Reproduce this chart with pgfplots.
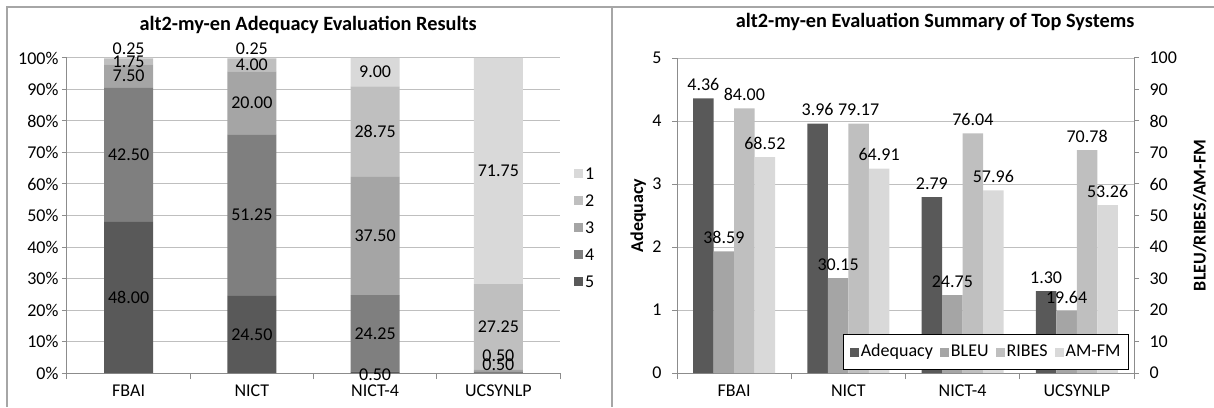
\documentclass[border=0pt]{standalone}
\usepackage{fontspec}
\setmainfont{Carlito}
\usepackage{pgfplots}
\usepackage{pgfplotstable}
\pgfplotsset{compat=1.18}
\definecolor{c5}{HTML}{595959}
\definecolor{c4}{HTML}{7F7F7F}
\definecolor{c3}{HTML}{A5A5A5}
\definecolor{c2}{HTML}{BFBFBF}
\definecolor{c1}{HTML}{D9D9D9}
\definecolor{gridc}{HTML}{BFBFBF}
\definecolor{axisc}{HTML}{8C8C8C}
\definecolor{framec}{HTML}{A6A6A6}
\newcommand{\lbl}{\fontsize{18}{21}\selectfont}
\newcommand{\ttl}{\bfseries\fontsize{20.3}{24}\selectfont}

% stacked adequacy shares (percent), one column per level; d* = extra label offsets (pt)
\pgfplotstableread{
x s5 s4 s3 s2 s1 d5 d4 d3 d2 d1
0 48.00 42.50 7.50 1.75 0.25 0 0 0 0 10
1 24.50 51.25 20.00 4.00 0.25 0 0 0 0 10
2 0.50 24.25 37.50 28.75 9.00 -3 0 0 0 0
3 0.00 0.50 0.50 27.25 71.75 -3 7 15 0 0
}\shares

\pgfplotstableread{
x adequacy bleu ribes amfm
0 4.36 38.59 84.00 68.52
1 3.96 30.15 79.17 64.91
2 2.79 24.75 76.04 57.96
3 1.30 19.64 70.78 53.26
}\summary

\pgfplotsset{
  common/.style={
    scale only axis, height=315pt,
    xmin=-0.5, xmax=3.5,
    /pgf/number format/assume math mode=true,
    tick label style={font=\lbl, text=black},
    xticklabel style={yshift=-3pt},
    label style={font=\lbl\bfseries, text=black},
    axis line style={axisc, line width=1pt},
    tick style={axisc, line width=1pt},
    tick align=outside, major tick length=5pt, minor tick length=6pt,
    grid style={gridc, line width=1pt},
  },
  seglabel/.style 2 args={
    visualization depends on={\thisrow{#1} \as \segval},
    visualization depends on={\thisrow{#2} \as \segdy},
    nodes near coords={\pgfmathprintnumber[fixed,fixed zerofill,precision=2]{\segval}},
    every node near coord/.append style={anchor=center, font=\lbl, text=black,
      yshift={\segdy}},
  },
  sq legend/.style={legend image code/.code={\fill[##1,draw=none] (0pt,-4.5pt) rectangle (9pt,4.5pt);}},
}

\begin{document}
\begin{tikzpicture}
\useasboundingbox (0,0) rectangle (1214pt,407pt);
\draw[framec, line width=1.2pt] (7pt,0pt) -- (7pt,400pt) -- (1214pt,400pt);
\draw[framec, line width=1.2pt] (612pt,0pt) -- (612pt,400pt);

% ---------------- left: stacked 100% bars ----------------
\begin{axis}[common,
  at={(67pt,34pt)}, anchor=south west, width=493pt,
  ybar stacked, bar width=49pt,
  ymin=0, ymax=100,
  xtick={0,1,2,3}, xticklabels={FBAI,NICT,NICT-4,UCSYNLP},
  major x tick style={draw=none},
  minor xtick={-0.5,0.5,1.5,2.5,3.5},
  ytick={0,10,...,100},
  yticklabel={\pgfmathprintnumber{\tick}\%},
  ymajorgrids,
  axis x line*=bottom, axis y line*=left,
  title={alt2-my-en Adequacy Evaluation Results},
  title style={font=\ttl, at={(axis description cs:0.489,1.0667)}, anchor=base},
  sq legend,
  legend style={at={(axis description cs:1.022,0.463)}, anchor=west, draw=none, fill=none,
    font=\lbl, row sep=11pt,
    nodes={inner sep=2pt, text height=12pt, text depth=0pt}},
]
\addplot[forget plot, fill=c5, draw=none, seglabel={s5}{d5}] table[x=x, y=s5] {\shares};
\addplot[forget plot, fill=c4, draw=none, seglabel={s4}{d4}] table[x=x, y=s4] {\shares};
\addplot[forget plot, fill=c3, draw=none, seglabel={s3}{d3}] table[x=x, y=s3] {\shares};
\addplot[forget plot, fill=c2, draw=none, seglabel={s2}{d2}] table[x=x, y=s2] {\shares};
\addplot[forget plot, fill=c1, draw=none, seglabel={s1}{d1}] table[x=x, y=s1] {\shares};
\addlegendimage{fill=c1, draw=none}\addlegendentry{1}
\addlegendimage{fill=c2, draw=none}\addlegendentry{2}
\addlegendimage{fill=c3, draw=none}\addlegendentry{3}
\addlegendimage{fill=c4, draw=none}\addlegendentry{4}
\addlegendimage{fill=c5, draw=none}\addlegendentry{5}
\end{axis}

% ---------------- right: Adequacy (left axis) ----------------
\begin{axis}[common,
  at={(677pt,34pt)}, anchor=south west, width=457pt,
  ybar, bar width=20.5pt,
  ymin=0, ymax=5,
  xtick={0,1,2,3}, xticklabels={FBAI,NICT,NICT-4,UCSYNLP},
  major x tick style={draw=none},
  minor xtick={-0.5,0.5,1.5,2.5,3.5},
  ytick={0,1,...,5},
  yticklabel style={xshift=-7pt},
  ymajorgrids,
  axis x line*=bottom, axis y line*=left,
  ylabel={Adequacy},
  ylabel style={at={(axis description cs:-0.085,0.5)}, anchor=center},
  title={alt2-my-en Evaluation Summary of Top Systems},
  title style={font=\ttl, at={(axis description cs:0.5646,1.079)}, anchor=base},
  nodes near coords={\pgfmathprintnumber[fixed,fixed zerofill,precision=2]{\pgfplotspointmeta}},
  every node near coord/.append style={font=\lbl, text=black, yshift=4pt},
]
\addplot[fill=c5, draw=none, bar shift=-30.75pt] table[x=x, y=adequacy] {\summary};
\end{axis}

% ---------------- right: BLEU / RIBES / AM-FM (right axis) ----------------
\begin{axis}[common,
  at={(677pt,34pt)}, anchor=south west, width=457pt,
  ybar, bar width=20.5pt,
  ymin=0, ymax=100,
  axis x line=none, axis y line*=right,
  ytick={0,10,...,100},
  yticklabel style={xshift=7pt},
  ylabel={BLEU/RIBES/AM-FM},
  ylabel style={at={(axis description cs:1.144,0.5)}, anchor=center},
  nodes near coords={\pgfmathprintnumber[fixed,fixed zerofill,precision=2]{\pgfplotspointmeta}},
  every node near coord/.append style={font=\lbl, text=black, yshift=4pt},
  sq legend,
  legend columns=4,
  legend style={at={(axis description cs:0.989,0.0095)}, anchor=south east,
    draw=black, line width=0.8pt, fill=white, font=\lbl,
    nodes={inner sep=2pt, text height=12pt, text depth=3pt},
    /tikz/every even column/.append style={column sep=5pt},
    inner xsep=6pt, inner ysep=8pt},
]
\addlegendimage{fill=c5, draw=none}
\addlegendentry{Adequacy}
\addplot[fill=c3, draw=none, bar shift=-10.25pt] table[x=x, y=bleu] {\summary};
\addlegendentry{BLEU}
\addplot[fill=c2, draw=none, bar shift=10.25pt] table[x=x, y=ribes] {\summary};
\addlegendentry{RIBES}
\addplot[fill=c1, draw=none, bar shift=30.75pt] table[x=x, y=amfm] {\summary};
\addlegendentry{AM-FM}
\end{axis}
\end{tikzpicture}
\end{document}
